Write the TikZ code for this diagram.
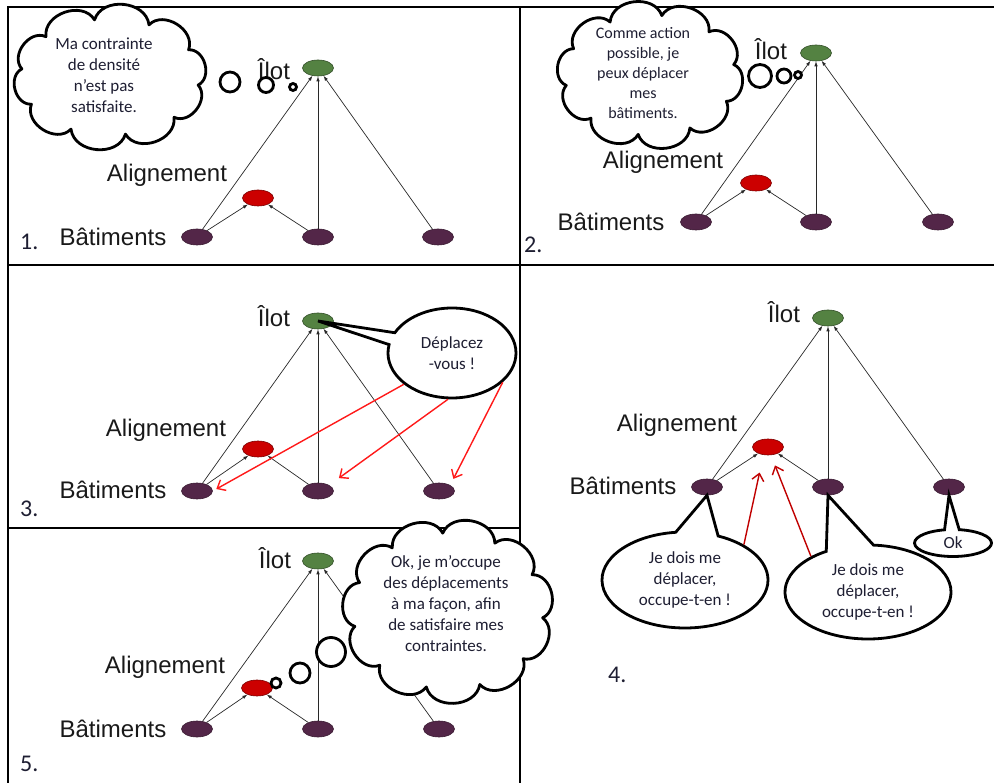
\documentclass[tikz,border=0pt]{standalone}
\usepackage{fontspec}
\setmainfont{Liberation Sans}
\newfontfamily\carl{Carlito}
\usetikzlibrary{shapes.geometric,shapes.callouts,arrows.meta,calc}
\definecolor{ilotgreen}{RGB}{84,130,66}
\definecolor{alignred}{RGB}{204,0,0}
\definecolor{batpurple}{RGB}{83,38,72}
\definecolor{redarrow}{RGB}{255,25,25}
\definecolor{darkredarrow}{RGB}{192,0,0}
\definecolor{bubtext}{RGB}{30,30,50}
\definecolor{edgegray}{RGB}{40,40,40}
% cloud: centre x, centre y, half width, half height, puffs, start angle
\newcommand\drawcloudshape[6]{%
 \draw[cloudline] ($(#1,#2)+({#3*cos(#6)},{#4*sin(#6)})$)
   \foreach \k in {1,...,#5} { to[bend left=78, looseness=1.15] ($(#1,#2)+({#3*cos(#6+\k*360/#5)},{#4*sin(#6+\k*360/#5)})$) } -- cycle;
}
\begin{document}
\begin{tikzpicture}[x=1pt,y=-1pt,
 blob/.style={ellipse, minimum width=31pt, minimum height=16pt, inner sep=0pt, line width=0.6pt},
 ilotnode/.style={blob, fill=ilotgreen, draw=ilotgreen!60!black},
 alignnode/.style={blob, fill=alignred, draw=alignred!60!black},
 batnode/.style={blob, fill=batpurple, draw=batpurple!70!black},
 lbl/.style={font=\fontsize{24}{28}\selectfont, text={rgb,255:red,25;green,25;blue,25}, inner sep=0pt, anchor=base},
 num/.style={font=\carl\fontsize{24}{28}\selectfont, text=bubtext, inner sep=0pt, anchor=base west},
 gedge/.style={line width=0.7pt, draw=edgegray, -{Latex[length=5pt,width=3.5pt]}},
 frameline/.style={line width=1.4pt, draw=black},
 thought/.style={circle, draw, line width=2.8pt, fill=white, inner sep=0pt},
 cloudline/.style={draw, line width=2.8pt, fill=white, line join=round},
 cloudtxt/.style={font=\carl\fontsize{17}{21}\selectfont, text=bubtext, align=center, inner sep=0pt},
 callbox/.style={ellipse callout, draw, line width=2.8pt, fill=white, inner sep=0pt, font=\carl\fontsize{17}{21}\selectfont, text=bubtext, align=center},
 redarr/.style={line width=1.4pt, draw=redarrow, -{Straight Barb[length=7pt,width=12pt]}},
 darkarr/.style={line width=1.4pt, draw=darkredarrow, -{Straight Barb[length=7pt,width=12pt]}}
]
\useasboundingbox (0,0) rectangle (994,783);
% frame
\draw[frameline] (8,783) -- (8,7) -- (994,7);
\draw[frameline] (520,7) -- (520,783);
\draw[frameline] (8,265) -- (994,265);
\draw[frameline] (8,528) -- (520,528);

% ---------- Panel 1 ----------
\node[ilotnode] (ilot1) at (318,68) {};
\node[alignnode] (red1) at (258,198) {};
\node[batnode] (b1a) at (197,237) {};
\node[batnode] (b1b) at (318,237) {};
\node[batnode] (b1c) at (438,237) {};
\node[lbl] (l1i) at (274,80) {Îlot};
\node[lbl] (l1a) at (167,182) {Alignement};
\node[lbl] (l1b) at (113,246) {Bâtiments};
\node[num] (n1) at (20,250) {1.};
\draw[gedge] (b1a) -- (ilot1);
\draw[gedge] (b1a) -- (red1);
\draw[gedge] (b1b) -- (red1);
\draw[gedge] (b1b) -- (ilot1);
\draw[gedge] (b1c) -- (ilot1);
\drawcloudshape{110}{77}{89}{58}{10}{8}
\node[cloudtxt] (t1) at (104,75) {Ma contrainte\\de densité\\n’est pas\\satisfaite.};
\node[thought, minimum size=20pt] (c1a) at (230,82) {};
\node[thought, minimum size=15pt] (c1b) at (266,85) {};
\node[thought, minimum size=7pt] (c1c) at (293,87) {};

% ---------- Panel 2 ----------
\node[ilotnode] (ilot2) at (816,53) {};
\node[alignnode] (red2) at (756,183) {};
\node[batnode] (b2a) at (696,222) {};
\node[batnode] (b2b) at (816,222) {};
\node[batnode] (b2c) at (938,222) {};
\node[lbl] (l2i) at (771,60) {Îlot};
\node[lbl] (l2a) at (663,169) {Alignement};
\node[lbl] (l2b) at (611,231) {Bâtiments};
\node[num] (n2) at (524,253) {2.};
\draw[gedge] (b2a) -- (ilot2);
\draw[gedge] (b2a) -- (red2);
\draw[gedge] (b2b) -- (red2);
\draw[gedge] (b2b) -- (ilot2);
\draw[gedge] (b2c) -- (ilot2);
\drawcloudshape{650}{75}{85}{60}{10}{-10}
\node[cloudtxt, font=\carl\fontsize{16}{20}\selectfont] (t2) at (643,73) {Comme action\\possible, je\\peux déplacer\\mes\\bâtiments.};
\node[thought, minimum size=23pt] (c2a) at (760,76) {};
\node[thought, minimum size=14pt] (c2b) at (784,76) {};
\node[thought, minimum size=7pt] (c2c) at (798,75) {};

% ---------- Panel 3 ----------
\node[ilotnode] (ilot3) at (318,321) {};
\node[alignnode] (red3) at (258,449) {};
\node[batnode] (b3a) at (197,491) {};
\node[batnode] (b3b) at (318,491) {};
\node[batnode] (b3c) at (439,491) {};
\node[lbl] (l3i) at (274,327) {Îlot};
\node[lbl] (l3a) at (166,437) {Alignement};
\node[lbl] (l3b) at (113,499) {Bâtiments};
\node[num] (n3) at (20,517) {3.};
\draw[gedge] (b3a) -- (ilot3);
\draw[gedge] (b3a) -- (red3);
\draw[gedge] (b3b) -- (red3);
\draw[gedge] (b3b) -- (ilot3);
\draw[gedge] (b3c) -- (ilot3);
\node[callbox, minimum width=128pt, minimum height=90pt, callout absolute pointer={(ilot3.center)}, callout pointer arc=16] (bub3) at (452,353) {Déplacez\\-vous !};
\draw[redarr, shorten >=4pt] (bub3.213) -- (b3a.east);
\draw[redarr, shorten >=12pt] (bub3.265) -- (b3b.north east);
\draw[redarr, shorten >=7pt] (bub3.330) -- (b3c.north east);

% ---------- Panel 4 ----------
\node[ilotnode] (ilot4) at (828,318) {};
\node[alignnode] (red4) at (768,447) {};
\node[batnode] (b4a) at (707,487) {};
\node[batnode] (b4b) at (828,487) {};
\node[batnode] (b4c) at (949,487) {};
\node[lbl] (l4i) at (784,323) {Îlot};
\node[lbl] (l4a) at (677,432) {Alignement};
\node[lbl] (l4b) at (623,495) {Bâtiments};
\node[num] (n4) at (608,682) {4.};
\draw[gedge] (b4a) -- (ilot4);
\draw[gedge] (b4a) -- (red4);
\draw[gedge] (b4b) -- (red4);
\draw[gedge] (b4b) -- (ilot4);
\draw[gedge] (b4c) -- (ilot4);
\node[callbox, minimum width=166pt, minimum height=96pt, callout absolute pointer={(b4a.south)}, callout pointer arc=30] (bub4a) at (685,580) {Je dois me\\déplacer,\\occupe-t-en !};
\node[callbox, minimum width=166pt, minimum height=94pt, callout absolute pointer={(b4b.south)}, callout pointer arc=34] (bub4b) at (868,592) {Je dois me\\déplacer,\\occupe-t-en !};
\node[callbox, minimum width=77pt, minimum height=27pt, callout absolute pointer={(b4c.south)}, callout pointer arc=22] (bub4c) at (953,543) {Ok};
\draw[darkarr, shorten >=18pt] (bub4a.31) -- (red4.240);
\draw[darkarr, shorten >=11pt] (bub4b.148) -- (red4.290);

% ---------- Panel 5 ----------
\node[ilotnode] (ilot5) at (318,561) {};
\node[alignnode] (red5) at (257,688) {};
\node[batnode] (b5a) at (197,729) {};
\node[batnode] (b5b) at (318,729) {};
\node[batnode] (b5c) at (439,729) {};
\node[lbl] (l5i) at (275,568) {Îlot};
\node[lbl] (l5a) at (165,673) {Alignement};
\node[lbl] (l5b) at (113,737) {Bâtiments};
\node[num] (n5) at (20,771) {5.};
\draw[gedge] (b5a) -- (ilot5);
\draw[gedge] (b5a) -- (red5);
\draw[gedge] (b5b) -- (red5);
\draw[gedge] (b5b) -- (ilot5);
\draw[gedge] (b5c) -- (ilot5);
\drawcloudshape{448}{611}{95}{78}{11}{5}
\node[cloudtxt] (t5) at (446,604) {Ok, je m’occupe\\des déplacements\\à ma façon, afin\\de satisfaire mes\\contraintes.};
\node[thought, minimum size=10pt] (c5a) at (276,683) {};
\node[thought, minimum size=20pt] (c5b) at (300,673) {};
\node[thought, minimum size=29pt] (c5c) at (331,652) {};
\end{tikzpicture}
\end{document}
